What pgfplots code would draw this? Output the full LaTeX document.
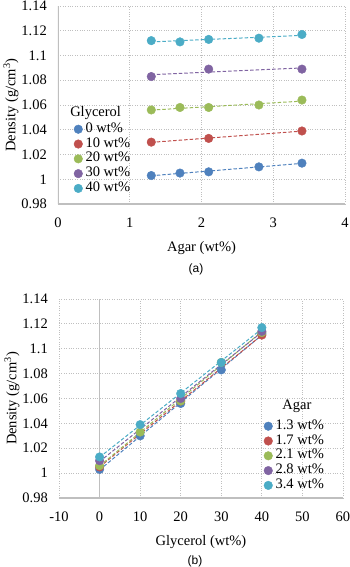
\documentclass[border=0pt]{standalone}
\usepackage{pgfplots}
\pgfplotsset{compat=1.18}
\usepackage{pgfplotstable}
\usepackage{fontspec}
\setmainfont{Liberation Serif}
\newfontfamily\arialfont{Liberation Sans}

\definecolor{cblue}{HTML}{4F81BD}
\definecolor{cred}{HTML}{C0504D}
\definecolor{cgreen}{HTML}{9BBB59}
\definecolor{cpurple}{HTML}{8064A2}
\definecolor{caqua}{HTML}{4BACC6}
\definecolor{gridc}{HTML}{BFBFBF}

% (a) density against agar, one table for each glycerol content
\pgfplotstableread{
x y
1.3 1.003
1.7 1.005
2.1 1.006
2.8 1.010
3.4 1.013
}\gA
\pgfplotstableread{
x y
1.3 1.030
2.1 1.033
3.4 1.039
}\gB
\pgfplotstableread{
x y
1.3 1.056
1.7 1.058
2.1 1.058
2.8 1.060
3.4 1.064
}\gC
\pgfplotstableread{
x y
1.3 1.083
2.1 1.089
3.4 1.089
}\gD
\pgfplotstableread{
x y
1.3 1.112
1.7 1.111
2.1 1.113
2.8 1.114
3.4 1.117
}\gE

% (b) density against glycerol, one table for each agar content
\pgfplotstableread{
x y
0 1.003
10 1.030
20 1.056
30 1.083
40 1.112
}\aA
\pgfplotstableread{
x y
0 1.005
20 1.058
40 1.111
}\aB
\pgfplotstableread{
x y
0 1.006
10 1.033
20 1.058
30 1.089
40 1.113
}\aC
\pgfplotstableread{
x y
0 1.010
20 1.060
40 1.114
}\aD
\pgfplotstableread{
x y
0 1.013
10 1.039
20 1.064
30 1.089
40 1.117
}\aE

\pgfplotsset{
  dot/.style={only marks, mark=*, mark size=4.3pt, mark options={fill=#1, draw=#1}, color=#1},
  trend/.style={#1, dash pattern=on 3.5pt off 2pt, line width=1pt, no marks, forget plot},
  densstyle/.style={
    scale only axis,
    font=\fontsize{14.5}{15}\selectfont,
    axis line style={draw=none},
    major tick length=0pt,
    grid=major,
    major grid style={gridc, dotted, line width=0.8pt},
    ymin=0.98, ymax=1.14,
    ytick={0.98,1,1.02,1.04,1.06,1.08,1.1,1.12,1.14},
    /pgf/number format/assume math mode=true,
    yticklabel style={/pgf/number format/fixed, /pgf/number format/precision=2,
      anchor=east, inner sep=0pt, xshift=-11pt},
    xticklabel style={anchor=center, inner sep=0pt, yshift=-19pt},
    ylabel={Density (g/cm\textsuperscript{3})},
    ylabel style={at={(axis description cs:0,0.5)}, anchor=center, rotate=0, yshift=47pt},
    xlabel style={at={(axis description cs:0.5,0)}, anchor=center, yshift=-44pt},
    legend style={draw=none, fill=none, inner sep=0pt,
      nodes={inner sep=0pt, text height=10.5pt, text depth=4.3pt},
      column sep=3pt, anchor=north west},
    legend cell align=left,
    legend image code/.code={\draw[##1] plot coordinates {(0pt,0pt)};},
  }
}

\begin{document}
\begin{tikzpicture}
\useasboundingbox (0,1pt) rectangle (350pt,-566pt);

\begin{axis}[densstyle,
  at={(58pt,-203pt)}, anchor=south west,
  width=287pt, height=198pt,
  xmin=0, xmax=4, xtick={0,1,2,3,4},
  xlabel={Agar (wt\%)},
  legend style={at={(axis description cs:0.055,0.416)}},
]
\draw[gridc, line width=1.2pt] (axis cs:0,0.98) -- (axis cs:4,0.98);
\draw[gridc, line width=1.2pt] (axis cs:0,0.98) -- (axis cs:0,1.14);
\addplot[trend=cblue] table[x=x, y={create col/linear regression={y=y}}] {\gA};
\addplot[trend=cred] table[x=x, y={create col/linear regression={y=y}}] {\gB};
\addplot[trend=cgreen] table[x=x, y={create col/linear regression={y=y}}] {\gC};
\addplot[trend=cpurple] table[x=x, y={create col/linear regression={y=y}}] {\gD};
\addplot[trend=caqua] table[x=x, y={create col/linear regression={y=y}}] {\gE};
\addplot[dot=cblue] table[x=x, y=y] {\gA};
\addplot[dot=cred] table[x=x, y=y] {\gB};
\addplot[dot=cgreen] table[x=x, y=y] {\gC};
\addplot[dot=cpurple] table[x=x, y=y] {\gD};
\addplot[dot=caqua] table[x=x, y=y] {\gE};
\legend{0 wt\%, 10 wt\%, 20 wt\%, 30 wt\%, 40 wt\%}
\node[anchor=base west, inner sep=0pt] at (axis description cs:0.042,0.444) {Glycerol};
\end{axis}

\node[font=\arialfont\fontsize{12}{12}\selectfont] at (196pt,-268pt) {(a)};

\begin{axis}[densstyle,
  at={(59pt,-497pt)}, anchor=south west,
  width=284pt, height=199pt,
  xmin=-10, xmax=60, xtick={-10,0,10,20,30,40,50,60},
  xlabel={Glycerol (wt\%)},
  legend style={at={(axis description cs:0.721,0.399)}},
]
\draw[gridc, line width=1.2pt] (axis cs:-10,0.98) -- (axis cs:60,0.98);
\draw[gridc, line width=1.2pt] (axis cs:0,0.98) -- (axis cs:0,1.14);
\addplot[trend=cblue] table[x=x, y={create col/linear regression={y=y}}] {\aA};
\addplot[trend=cred] table[x=x, y={create col/linear regression={y=y}}] {\aB};
\addplot[trend=cgreen] table[x=x, y={create col/linear regression={y=y}}] {\aC};
\addplot[trend=cpurple] table[x=x, y={create col/linear regression={y=y}}] {\aD};
\addplot[trend=caqua] table[x=x, y={create col/linear regression={y=y}}] {\aE};
\addplot[dot=cblue] table[x=x, y=y] {\aA};
\addplot[dot=cred] table[x=x, y=y] {\aB};
\addplot[dot=cgreen] table[x=x, y=y] {\aC};
\addplot[dot=cpurple] table[x=x, y=y] {\aD};
\addplot[dot=caqua] table[x=x, y=y] {\aE};
\legend{1.3 wt\%, 1.7 wt\%, 2.1 wt\%, 2.8 wt\%, 3.4 wt\%}
\node[anchor=base, inner sep=0pt] at (axis description cs:0.838,0.447) {Agar};
\end{axis}

\node[font=\arialfont\fontsize{12}{12}\selectfont] at (195pt,-560pt) {(b)};
\end{tikzpicture}
\end{document}
